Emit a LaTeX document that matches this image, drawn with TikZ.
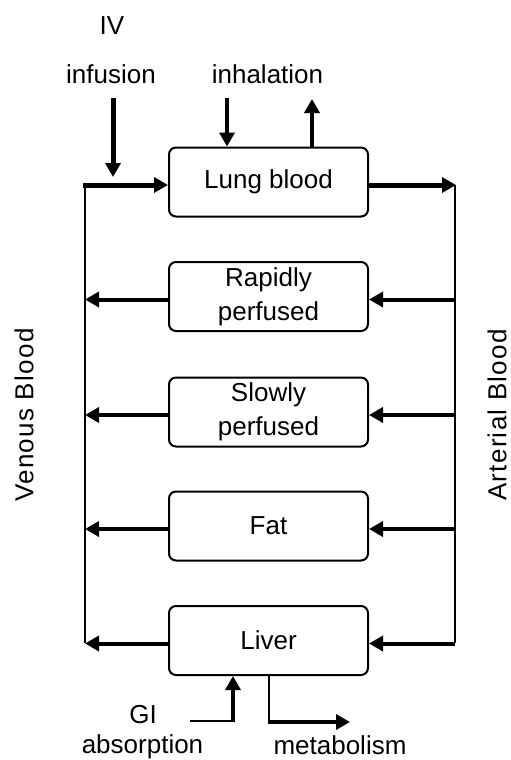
\documentclass[tikz,border=0pt]{standalone}
\usepackage{fontspec}
\setmainfont{Liberation Sans}
\usetikzlibrary{arrows.meta,calc}
\begin{document}
\begin{tikzpicture}[x=1pt,y=-1pt,
  comp/.style={draw,line width=2pt,rounded corners=7pt,minimum width=199pt,minimum height=69pt,align=center,inner sep=0pt,font=\fontsize{26}{34}\selectfont},
  lbl/.style={font=\fontsize{26}{34}\selectfont,inner sep=0pt},
  sidelbl/.style={lbl,rotate=90,font=\fontsize{26}{34}\selectfont\addfontfeature{LetterSpace=5}},
  wire/.style={line width=2pt},
  flow/.style={line width=4.5pt,-{Triangle[length=14pt,width=15pt]}},
]
\useasboundingbox (0,0) rectangle (511,760);
% compartments
\node[comp] (lung)  at (268.5,182)   {Lung blood};
\node[comp] (rapid) at (268.5,296.5) {Rapidly\\perfused};
\node[comp] (slow)  at (268.5,412)   {Slowly\\perfused};
\node[comp] (fat)   at (268.5,526)   {Fat};
\node[comp] (liver) at (268.5,640.5) {Liver};
% blood lines
\coordinate (vtop) at (85,185);
\coordinate (vbot) at (85,643);
\coordinate (atop) at (455,185);
\coordinate (abot) at (455,643);
\draw[wire] (vtop) -- (vbot);
\draw[wire] (atop) -- (abot);
% lung flows
\draw[flow,line width=5pt] ([xshift=-2pt]vtop) -- (vtop -| lung.west);
\draw[flow,line width=5pt] (lung.east |- atop) -- ([xshift=1pt]atop);
% tissue flows
\foreach \n in {rapid,slow,fat,liver}{
  \draw[flow,line width=4pt] ([yshift=-3pt]\n.west) -- ([yshift=-3pt]\n.west -| vtop);
  \draw[flow,line width=4pt] ([yshift=-3pt]\n.east -| atop) -- ([yshift=-3pt]\n.east);
}
% inputs at top
\coordinate (ivs) at (113,98);
\coordinate (ive) at (113,177);
\draw[flow,line width=5pt] (ivs) -- (ive);
\coordinate (inh) at (227,98);
\draw[flow,line width=4.5pt] (inh) -- (inh |- lung.north);
\coordinate (exh) at (312,99);
\draw[flow,line width=4.5pt] (exh |- lung.north) -- (exh);
% labels
\node[lbl,anchor=base] (iv)   at (112,35)    {IV};
\node[lbl,anchor=base] (inf)  at (111,84)    {infusion};
\node[lbl,anchor=base] (inhl) at (267.5,84)  {inhalation};
\node[lbl,anchor=base] (gil)  at (143,723)   {GI};
\node[lbl,anchor=base] (abs)  at (142.5,753) {absorption};
\node[lbl,anchor=base] (met)  at (340,754)   {metabolism};
\node[sidelbl] (ven) at (24,415)  {Venous Blood};
\node[sidelbl] (art) at (497,415) {Arterial Blood};
% GI absorption and metabolism
\coordinate (gi)  at (190,721);
\coordinate (gic) at (233,721);
\draw[wire] (gi) -- (gic);
\draw[flow,line width=4pt] ([yshift=-1pt]gic) -- (gic |- liver.south);
\coordinate (mc) at (269,722);
\coordinate (me) at (350,722);
\draw[wire] (mc |- liver.south) -- (mc);
\draw[flow,line width=4pt] ([xshift=-1pt]mc) -- (me);
\end{tikzpicture}
\end{document}
